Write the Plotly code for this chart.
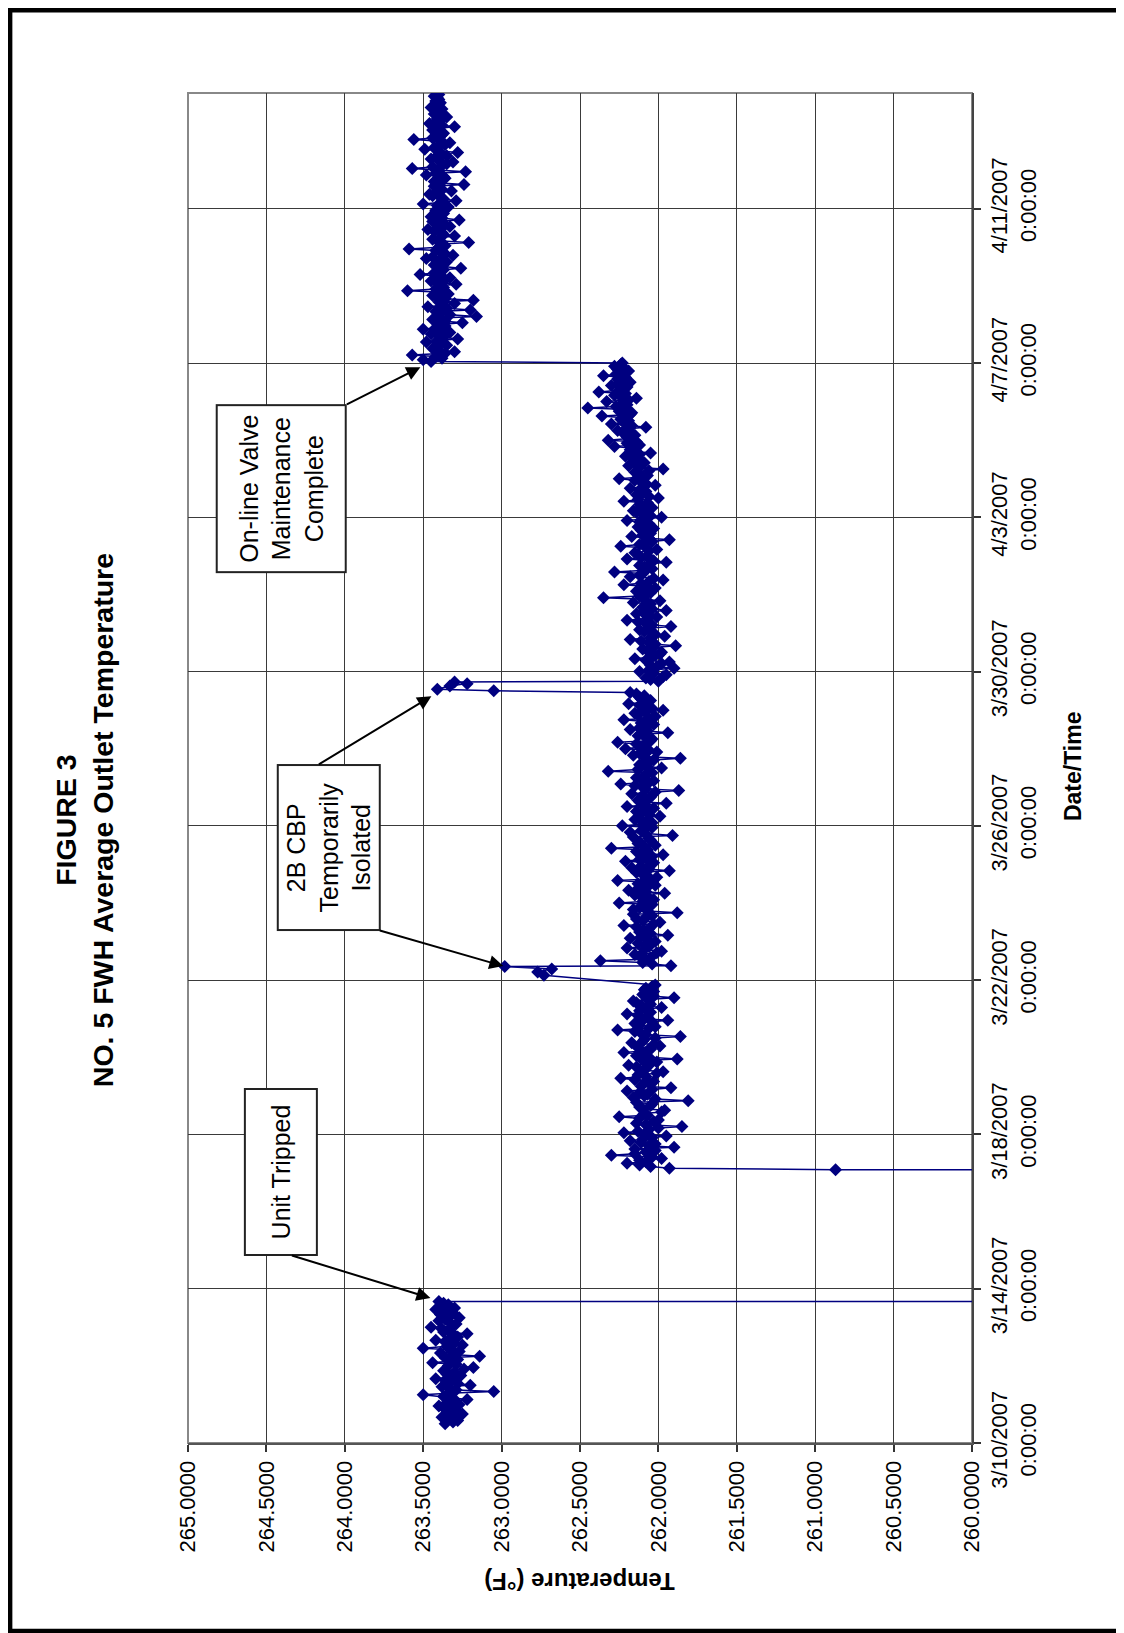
import pandas as pd
import plotly.graph_objects as go

# ---------------- data ----------------
SAMPLE_STEP = "1h"

# Segment A: before unit trip (hourly readings)
A_START = "2007-03-10 12:00"
A_TEMPS = [263.36, 263.31, 263.28, 263.34, 263.38, 263.30, 263.25, 263.33, 263.29, 263.36, 263.32, 263.40,
           263.27, 263.35, 263.30, 263.22, 263.31, 263.37, 263.50, 263.34, 263.05, 263.29, 263.33, 263.38,
           263.20, 263.28, 263.33, 263.36, 263.42, 263.30, 263.26, 263.35, 263.30, 263.37, 263.24, 263.18,
           263.34, 263.29, 263.44, 263.32, 263.28, 263.36, 263.14, 263.31, 263.39, 263.27, 263.32, 263.50,
           263.35, 263.25, 263.30, 263.36, 263.42, 263.33, 263.28, 263.30, 263.22, 263.37, 263.34, 263.38,
           263.45, 263.31, 263.29, 263.33, 263.40, 263.36, 263.27, 263.34, 263.39, 263.31, 263.35, 263.42,
           263.30, 263.38, 263.34, 263.37, 263.40]

# Unit trip (readings far below the axis range) and recovery
TRIP_TIMES = ["2007-03-13 17:00", "2007-03-17 01:30", "2007-03-17 02:00"]
TRIP_TEMPS = [120.0, 120.0, 260.87]

# Segment B
B_START = "2007-03-17 03:00"
B_TEMPS = [261.93, 262.05, 262.12, 262.20, 262.08, 262.12, 261.98, 262.04, 262.30, 262.15, 262.08, 262.02,
           262.15, 261.90, 262.06, 262.02, 262.11, 262.18, 262.10, 262.04, 261.95, 262.09, 262.22, 262.13,
           262.06, 262.00, 261.85, 262.08, 262.14, 262.03, 262.00, 262.12, 262.25, 262.07, 262.09, 261.98,
           261.96, 262.10, 262.12, 262.05, 262.04, 262.14, 261.81, 262.02, 262.16, 262.09, 262.07, 262.12,
           262.20, 262.04, 261.92, 262.11, 262.10, 262.06, 262.03, 262.15, 262.24, 262.08, 262.13, 262.01,
           261.97, 262.09, 262.08, 262.14, 262.19, 262.05, 262.01, 262.10, 261.88, 262.06, 262.14, 262.11,
           262.22, 262.07, 262.05, 262.13, 261.99, 262.03, 262.17, 262.10, 262.09, 262.02, 261.86, 262.08,
           262.11, 262.15, 262.26, 262.06, 262.02, 262.12, 262.15, 262.04, 261.94, 262.09, 262.07, 262.13,
           262.20, 262.05, 262.12, 262.08, 261.98, 262.11, 262.05, 262.14, 262.16, 262.07, 261.90, 262.03,
           262.10, 262.06, 262.03, 262.09, 262.08, 262.04, 262.02]

# 2B CBP temporarily isolated (first)
C_TIMES = ["2007-03-22 03:00", "2007-03-22 05:00", "2007-03-22 07:00", "2007-03-22 08:30"]
C_TEMPS = [262.73, 262.77, 262.68, 262.98]

# Segment D
D_START = "2007-03-22 09:00"
D_TEMPS = [261.92, 262.04, 262.10, 262.37, 262.08, 262.05, 262.12, 262.15, 262.01, 261.98, 262.09, 262.20,
           262.06, 262.08, 262.13, 262.02, 262.07, 262.18, 262.11, 261.94, 262.05, 262.12, 262.09, 262.06,
           262.14, 262.22, 262.03, 261.99, 262.10, 262.14, 262.08, 262.04, 262.16, 261.88, 262.07, 262.16,
           262.12, 262.09, 262.04, 262.25, 262.10, 262.03, 262.06, 262.11, 262.15, 261.96, 262.08, 262.19,
           262.13, 262.07, 262.02, 262.13, 262.10, 262.26, 262.05, 262.01, 262.09, 262.10, 262.14, 261.93,
           262.06, 262.17, 262.11, 262.05, 262.03, 262.21, 262.12, 262.08, 262.04, 261.97, 262.10, 262.14,
           262.07, 262.30, 262.09, 262.02, 262.13, 262.12, 262.05, 262.06, 262.16, 261.91, 262.08, 262.18,
           262.11, 262.09, 262.04, 262.23, 262.10, 262.04, 262.07, 262.15, 262.12, 261.99, 262.06, 262.11,
           262.14, 262.07, 262.03, 262.20, 262.09, 261.95, 262.12, 262.13, 262.06, 262.05, 262.10, 262.17,
           262.02, 261.87, 262.08, 262.10, 262.15, 262.24, 262.06, 262.03, 262.11, 262.14, 262.09, 262.08,
           262.04, 262.32, 262.13, 261.98, 262.07, 262.12, 262.10, 262.06, 262.03, 261.86, 262.09, 262.16,
           262.12, 262.01, 262.06, 262.21, 262.11, 262.09, 262.14, 262.26, 262.05, 262.04, 262.08, 262.13,
           262.10, 261.94, 262.07, 262.18, 262.12, 262.07, 262.03, 262.11, 262.09, 262.22, 262.06, 262.02,
           262.13, 262.15, 262.08, 261.97, 262.04, 262.10, 262.12, 262.19, 262.07, 262.05, 262.11, 262.12,
           262.09, 262.14, 262.18]

# 2B CBP temporarily isolated (second)
E_TIMES = ["2007-03-29 12:00", "2007-03-29 13:00", "2007-03-29 15:00", "2007-03-29 16:30",
           "2007-03-29 17:30"]
E_TEMPS = [263.05, 263.41, 263.33, 263.22, 263.30]

# Segment F
F_START = "2007-03-29 18:00"
F_TEMPS = [262.00, 262.05, 262.08, 261.97, 261.95, 262.03, 262.12, 262.06, 261.90, 262.01, 262.05, 261.98,
           261.93, 262.08, 262.15, 262.04, 262.02, 261.99, 261.98, 262.07, 262.10, 262.03, 261.89, 262.02,
           262.06, 262.11, 262.18, 262.05, 261.96, 262.02, 262.04, 262.09, 262.12, 262.06, 261.92, 262.04,
           262.08, 262.13, 262.20, 262.07, 262.01, 262.06, 262.14, 262.10, 261.95, 262.04, 262.10, 262.07,
           262.05, 262.16, 261.99, 262.09, 262.35, 262.12, 262.08, 262.05, 262.14, 262.10, 262.02, 262.07,
           262.22, 262.11, 262.06, 261.97, 262.03, 262.18, 262.12, 262.10, 262.28, 262.08, 262.04, 262.09,
           262.12, 262.06, 261.95, 262.03, 262.20, 262.11, 262.07, 262.13, 262.15, 262.06, 262.01, 262.08,
           262.24, 262.12, 262.09, 262.04, 261.93, 262.06, 262.17, 262.10, 262.05, 262.08, 262.11, 262.03,
           262.13, 262.07, 262.06, 262.12, 262.20, 262.09, 261.98, 262.05, 262.10, 262.14, 262.16, 262.08,
           262.04, 262.11, 262.12, 262.07, 262.22, 262.13, 262.00, 262.06, 262.14, 262.10, 262.08, 262.12,
           262.18, 262.09, 262.02, 262.08, 262.11, 262.15, 262.25, 262.10, 262.07, 262.13, 262.15, 262.06,
           261.97, 262.12, 262.19, 262.14, 262.09, 262.11, 262.13, 262.17, 262.21, 262.12, 262.05, 262.14,
           262.18, 262.16, 262.28, 262.12, 262.20, 262.14, 262.32, 262.19, 262.20, 262.15, 262.22, 262.18,
           262.26, 262.21, 262.08, 262.17, 262.30, 262.22, 262.19, 262.24, 262.22, 262.36, 262.18, 262.17,
           262.25, 262.20, 262.45, 262.27, 262.20, 262.23, 262.33, 262.19, 262.14, 262.24, 262.28, 262.21,
           262.38, 262.25, 262.22, 262.20, 262.30, 262.26, 262.18, 262.23, 262.26, 262.21, 262.35, 262.27,
           262.23, 262.19, 262.26, 262.22, 262.28, 262.24, 262.23]

# Segment G: after on-line valve maintenance
G_START = "2007-04-07 01:00"
G_TEMPS = [263.45, 263.50, 263.38, 263.42, 263.57, 263.36, 263.30, 263.40, 263.44, 263.42, 263.35, 263.39,
           263.48, 263.41, 263.28, 263.37, 263.40, 263.45, 263.33, 263.38, 263.50, 263.42, 263.36, 263.40,
           263.25, 263.36, 263.44, 263.39, 263.16, 263.33, 263.39, 263.42, 263.20, 263.35, 263.47, 263.38,
           263.30, 263.40, 263.18, 263.36, 263.41, 263.44, 263.34, 263.37, 263.60, 263.42, 263.37, 263.39,
           263.29, 263.41, 263.45, 263.36, 263.33, 263.40, 263.52, 263.43, 263.40, 263.37, 263.26, 263.38,
           263.43, 263.41, 263.35, 263.39, 263.48, 263.44, 263.31, 263.36, 263.39, 263.42, 263.59, 263.40,
           263.36, 263.38, 263.21, 263.41, 263.44, 263.39, 263.30, 263.37, 263.38, 263.43, 263.47, 263.40,
           263.33, 263.36, 263.41, 263.44, 263.27, 263.38, 263.45, 263.40, 263.37, 263.42, 263.42, 263.36,
           263.34, 263.41, 263.50, 263.38, 263.29, 263.37, 263.39, 263.44, 263.46, 263.40, 263.32, 263.38,
           263.40, 263.43, 263.24, 263.39, 263.43, 263.41, 263.36, 263.37, 263.48, 263.42, 263.23, 263.40,
           263.57, 263.44, 263.38, 263.35, 263.31, 263.40, 263.45, 263.42, 263.35, 263.38, 263.28, 263.41,
           263.49, 263.43, 263.40, 263.36, 263.33, 263.39, 263.56, 263.44, 263.42, 263.38, 263.37, 263.41,
           263.44, 263.40, 263.30, 263.38, 263.46, 263.42, 263.39, 263.41, 263.35, 263.40, 263.43, 263.39,
           263.41, 263.38, 263.45, 263.42, 263.40, 263.39, 263.42, 263.40, 263.41, 263.43, 263.40, 263.41]

TEMP_TICKS = [260.0, 260.5, 261.0, 261.5, 262.0, 262.5, 263.0, 263.5, 264.0, 264.5, 265.0]
DATE_TICKS = ["2007-03-10", "2007-03-14", "2007-03-18", "2007-03-22", "2007-03-26",
              "2007-03-30", "2007-04-03", "2007-04-07", "2007-04-11"]
DATE_TICK_TEXT = ["3/10/2007<br>0:00:00", "3/14/2007<br>0:00:00", "3/18/2007<br>0:00:00",
                  "3/22/2007<br>0:00:00", "3/26/2007<br>0:00:00", "3/30/2007<br>0:00:00",
                  "4/3/2007<br>0:00:00", "4/7/2007<br>0:00:00", "4/11/2007<br>0:00:00"]
DATE_RANGE = ["2007-03-10", "2007-04-14"]
TEMP_RANGE = [265.0, 260.0]


def regular(start, vals):
    return list(pd.date_range(start, periods=len(vals), freq=SAMPLE_STEP))


times = (regular(A_START, A_TEMPS) + list(pd.to_datetime(TRIP_TIMES)) +
         regular(B_START, B_TEMPS) + list(pd.to_datetime(C_TIMES)) +
         regular(D_START, D_TEMPS) + list(pd.to_datetime(E_TIMES)) +
         regular(F_START, F_TEMPS) + regular(G_START, G_TEMPS))
temps = A_TEMPS + TRIP_TEMPS + B_TEMPS + C_TEMPS + D_TEMPS + E_TEMPS + F_TEMPS + G_TEMPS

FONT = "Liberation Sans, Arial, sans-serif"
NAVY = "#000080"

fig = go.Figure()
fig.add_trace(go.Scatter(
    x=temps, y=times, mode="lines+markers",
    line=dict(color=NAVY, width=1.5),
    marker=dict(symbol="diamond", size=10, color=NAVY, line=dict(width=0)),
    showlegend=False, hoverinfo="skip"))

# page body has an 8px margin: figure coords = page coords - 8
OFF = 8
W, H = 1124, 1633
pw, ph = 784.5, 1350.3
L, T = 187.5 - OFF, 92.7 - OFF
R = W - L - pw
B = H - T - ph


def px(xp):
    return (xp - OFF - L) / pw


def py(yp):
    return (H - B - (yp - OFF)) / ph


fig.update_layout(
    template="none",
    width=W, height=H,
    margin=dict(l=L, r=R, t=T, b=B, pad=0),
    paper_bgcolor="white", plot_bgcolor="white",
    font=dict(family=FONT, size=22, color="black"),
    xaxis=dict(range=TEMP_RANGE, tickvals=TEMP_TICKS, tickformat=".4f", tickangle=-90,
               ticks="outside", ticklen=7, tickcolor="#333", tickwidth=1.5,
               showgrid=True, gridcolor="#3a3a3a", gridwidth=1.2, zeroline=False,
               showline=True, linecolor="#555", linewidth=2, mirror=False,
               automargin=False, tickfont=dict(family=FONT, size=22)),
    yaxis=dict(type="date", range=DATE_RANGE, tickvals=DATE_TICKS, ticktext=DATE_TICK_TEXT,
               side="right", tickangle=-90, ticks="outside", ticklen=7, tickcolor="#333",
               tickwidth=1.5, showgrid=True, gridcolor="#3a3a3a", gridwidth=1.2,
               zeroline=False, showline=True, linecolor="#444", linewidth=2, mirror=False,
               automargin=False, tickfont=dict(family=FONT, size=22)),
)

# plot area border (gray) and page frame (black)
fig.add_shape(type="rect", xref="paper", yref="paper", x0=0, x1=1, y0=0, y1=1,
              line=dict(color="#888", width=2), layer="below")
fig.add_shape(type="rect", xref="paper", yref="paper",
              x0=px(9.5), x1=px(1120), y0=py(1631), y1=py(10),
              line=dict(color="black", width=4.5))

# titles
fig.add_annotation(xref="paper", yref="paper", x=px(83.5), y=py(820), showarrow=False,
                   text="<b>FIGURE 3</b><br><b>NO. 5 FWH Average Outlet Temperature</b>",
                   textangle=-90, font=dict(family=FONT, size=28.5, color="black"),
                   xanchor="center", yanchor="middle", align="center")
fig.add_annotation(xref="paper", yref="paper", x=px(578.6), y=py(1581), showarrow=False,
                   text="<b>Temperature (°F)</b>", textangle=180,
                   font=dict(family=FONT, size=24, color="black"),
                   xanchor="center", yanchor="middle")
fig.add_annotation(xref="paper", yref="paper", x=px(1073), y=py(766), showarrow=False,
                   text="<b>Date/Time</b>", textangle=-90,
                   font=dict(family=FONT, size=23, color="black"),
                   xanchor="center", yanchor="middle")

# callout boxes
boxes = [
    ("Unit Tripped", 280.5, 1172, 162, 68),
    ("On-line Valve<br>Maintenance<br>Complete", 281, 488.5, 163, 125),
    ("2B CBP<br>Temporarily<br>Isolated", 328, 847.5, 161, 98),
]
for txt, cx, cy, w, h in boxes:
    fig.add_annotation(xref="paper", yref="paper", x=px(cx), y=py(cy), showarrow=False,
                       text=txt, textangle=-90, width=w, height=h,
                       font=dict(family=FONT, size=25, color="black"),
                       bgcolor="white", bordercolor="#222", borderwidth=2, borderpad=1,
                       xanchor="center", yanchor="middle", align="center")

# arrows (head in data coords, tail offset in pixels)
arrows = [
    (263.454, "2007-03-13 18:11", -140, -43),
    (263.448, "2007-03-29 08:38", -114, 69),
    (262.989, "2007-03-22 08:44", -125, -36),
    (263.518, "2007-04-06 21:22", -75, 38),
]
for ax_t, ax_d, dx, dy in arrows:
    fig.add_annotation(xref="x", yref="y", x=ax_t, y=ax_d, text="", showarrow=True,
                       ax=dx, ay=dy, arrowhead=2, arrowsize=1.4, arrowwidth=2,
                       arrowcolor="black", standoff=0)

fig.write_html("out.html")
